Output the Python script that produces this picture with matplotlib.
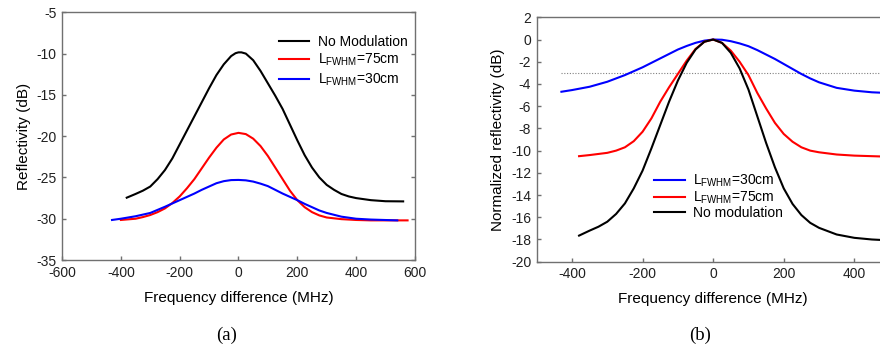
import numpy as np
import matplotlib
matplotlib.use("Agg")
import matplotlib.pyplot as plt

plt.rcParams['font.family'] = ['Liberation Sans', 'DejaVu Sans']
plt.rcParams['mathtext.fontset'] = 'custom'
plt.rcParams['mathtext.rm'] = 'Liberation Sans'
plt.rcParams['mathtext.it'] = 'Liberation Sans'
plt.rcParams['axes.unicode_minus'] = False

# (a) absolute reflectivity
f_black_a = [-380, -350, -325, -300, -275, -250, -225, -200, -175, -150, -125, -100,
             -75, -50, -25, -10, 0, 10, 25, 50, 75, 100, 125, 150, 175, 200, 225, 250,
             275, 300, 325, 350, 375, 400, 450, 500, 560]
r_black_a = [-27.45, -27.0, -26.6, -26.1, -25.2, -24.1, -22.7, -21.0, -19.3, -17.6,
             -15.9, -14.2, -12.6, -11.3, -10.3, -9.95, -9.85, -9.85, -10.0, -10.8,
             -12.1, -13.6, -15.1, -16.7, -18.6, -20.5, -22.3, -23.8, -25.0, -25.9,
             -26.5, -27.0, -27.3, -27.5, -27.75, -27.88, -27.9]
f_red_a = [-400, -350, -325, -300, -275, -250, -225, -200, -175, -150, -125, -100,
           -75, -50, -25, 0, 25, 50, 75, 100, 125, 150, 175, 200, 225, 250, 275,
           300, 350, 400, 450, 575]
r_red_a = [-30.15, -30.0, -29.8, -29.55, -29.2, -28.75, -28.1, -27.3, -26.3, -25.2,
           -23.9, -22.6, -21.4, -20.4, -19.8, -19.6, -19.75, -20.3, -21.2, -22.4,
           -23.8, -25.2, -26.6, -27.75, -28.6, -29.2, -29.6, -29.85, -30.05, -30.15,
           -30.2, -30.2]
f_blue_a = [-430, -400, -350, -300, -250, -225, -200, -175, -150, -125, -100, -75,
            -50, -25, 0, 25, 50, 75, 100, 125, 150, 175, 200, 225, 250, 275, 300,
            350, 400, 450, 540]
r_blue_a = [-30.15, -30.0, -29.7, -29.3, -28.55, -28.15, -27.75, -27.35, -26.95,
            -26.5, -26.1, -25.7, -25.45, -25.32, -25.3, -25.35, -25.5, -25.75, -26.05,
            -26.5, -26.95, -27.35, -27.75, -28.2, -28.6, -29.0, -29.3, -29.75, -30.0,
            -30.1, -30.2]

# (b) normalized reflectivity
f_blue_b = [-430, -400, -350, -300, -250, -225, -200, -175, -150, -125, -100, -75,
            -50, -25, 0, 25, 50, 75, 100, 125, 150, 175, 200, 225, 250, 275, 300,
            350, 400, 450, 500]
r_blue_b = [-4.7, -4.55, -4.25, -3.8, -3.2, -2.85, -2.5, -2.1, -1.7, -1.3, -0.9,
            -0.58, -0.3, -0.1, 0.0, -0.02, -0.15, -0.35, -0.6, -0.95, -1.35, -1.75,
            -2.2, -2.65, -3.1, -3.5, -3.85, -4.35, -4.6, -4.75, -4.82]
f_red_b = [-380, -350, -300, -275, -250, -225, -200, -175, -150, -125, -100, -75,
           -50, -25, 0, 25, 50, 75, 100, 125, 150, 175, 200, 225, 250, 275, 300,
           350, 400, 450, 500]
r_red_b = [-10.5, -10.4, -10.2, -10.0, -9.7, -9.15, -8.3, -7.1, -5.6, -4.3, -3.1,
           -1.9, -0.85, -0.2, 0.0, -0.3, -1.0, -2.0, -3.2, -4.8, -6.2, -7.5, -8.5,
           -9.2, -9.7, -10.0, -10.15, -10.35, -10.45, -10.5, -10.55]
f_black_b = [-380, -350, -325, -300, -275, -250, -225, -200, -175, -150, -125, -100,
             -75, -50, -25, 0, 25, 50, 75, 100, 125, 150, 175, 200, 225, 250, 275,
             300, 350, 400, 450, 500]
r_black_b = [-17.65, -17.2, -16.85, -16.4, -15.7, -14.75, -13.4, -11.8, -9.8, -7.7,
             -5.6, -3.7, -2.1, -0.9, -0.2, 0.0, -0.3, -1.2, -2.6, -4.5, -6.9, -9.3,
             -11.5, -13.4, -14.8, -15.8, -16.5, -16.95, -17.55, -17.85, -18.0, -18.08]

lab_nomod_a = 'No Modulation'
lab_nomod_b = 'No modulation'
lab_75 = r'L$_{\mathrm{FWHM}}$=75cm'
lab_30 = r'L$_{\mathrm{FWHM}}$=30cm'

spine_c = '#707070'
fig = plt.figure(figsize=(8.8, 3.54), dpi=100)

def style(ax, right_ticks):
    for s in ax.spines.values():
        s.set_color(spine_c)
        s.set_linewidth(1.0)
    ax.tick_params(direction='in', length=3, width=1, color=spine_c,
                   labelsize=10, labelcolor='#202020', right=right_ticks, pad=4)

# panel (a)
ax1 = fig.add_axes([0.0705, 0.2655, 0.401, 0.6997])
ax1.plot(f_black_a, r_black_a, color='black', lw=1.5, label=lab_nomod_a)
ax1.plot(f_red_a, r_red_a, color='#ff0000', lw=1.5, label=lab_75)
ax1.plot(f_blue_a, r_blue_a, color='#0000ff', lw=1.5, label=lab_30)
ax1.set_xlim(-600, 600)
ax1.set_ylim(-35, -5)
ax1.set_xticks(np.arange(-600, 601, 200))
ax1.set_yticks(np.arange(-35, -4, 5))
style(ax1, True)
ax1.set_xlabel('Frequency difference (MHz)', fontsize=11, labelpad=8)
ax1.set_ylabel('Reflectivity (dB)', fontsize=11, labelpad=4)
ax1.legend(loc='upper left', bbox_to_anchor=(0.309, 0.921), bbox_transform=fig.transFigure,
           frameon=False, fontsize=10, handlelength=2.2, handletextpad=0.6,
           labelspacing=0.22, borderpad=0)

# panel (b)
ax2 = fig.add_axes([0.6099, 0.2607, 0.401, 0.6904])
ax2.axhline(-3, xmin=0.068, xmax=1.0, color='#808080', lw=0.8, ls=(0, (1, 1.5)))
ax2.plot(f_blue_b, r_blue_b, color='#0000ff', lw=1.5, label=lab_30)
ax2.plot(f_red_b, r_red_b, color='#ff0000', lw=1.5, label=lab_75)
ax2.plot(f_black_b, r_black_b, color='black', lw=1.5, label=lab_nomod_b)
ax2.set_xlim(-500, 500)
ax2.set_ylim(-20, 2)
ax2.set_xticks(np.arange(-400, 401, 200))
ax2.set_yticks(np.arange(-20, 3, 2))
style(ax2, False)
ax2.set_xlabel('Frequency difference (MHz)', fontsize=11, labelpad=8)
ax2.set_ylabel('Normalized reflectivity (dB)', fontsize=11, labelpad=4)
ax2.legend(loc='upper left', bbox_to_anchor=(0.7355, 0.531), bbox_transform=fig.transFigure,
           frameon=False, fontsize=10, handlelength=2.2, handletextpad=0.6,
           labelspacing=0.0, borderpad=0)

fig.text(0.2575, 0.04, '(a)', family='Liberation Serif', fontsize=13.5, ha='center')
fig.text(0.7955, 0.04, '(b)', family='Liberation Serif', fontsize=13.5, ha='center')

fig.savefig('out.png', dpi=100)
